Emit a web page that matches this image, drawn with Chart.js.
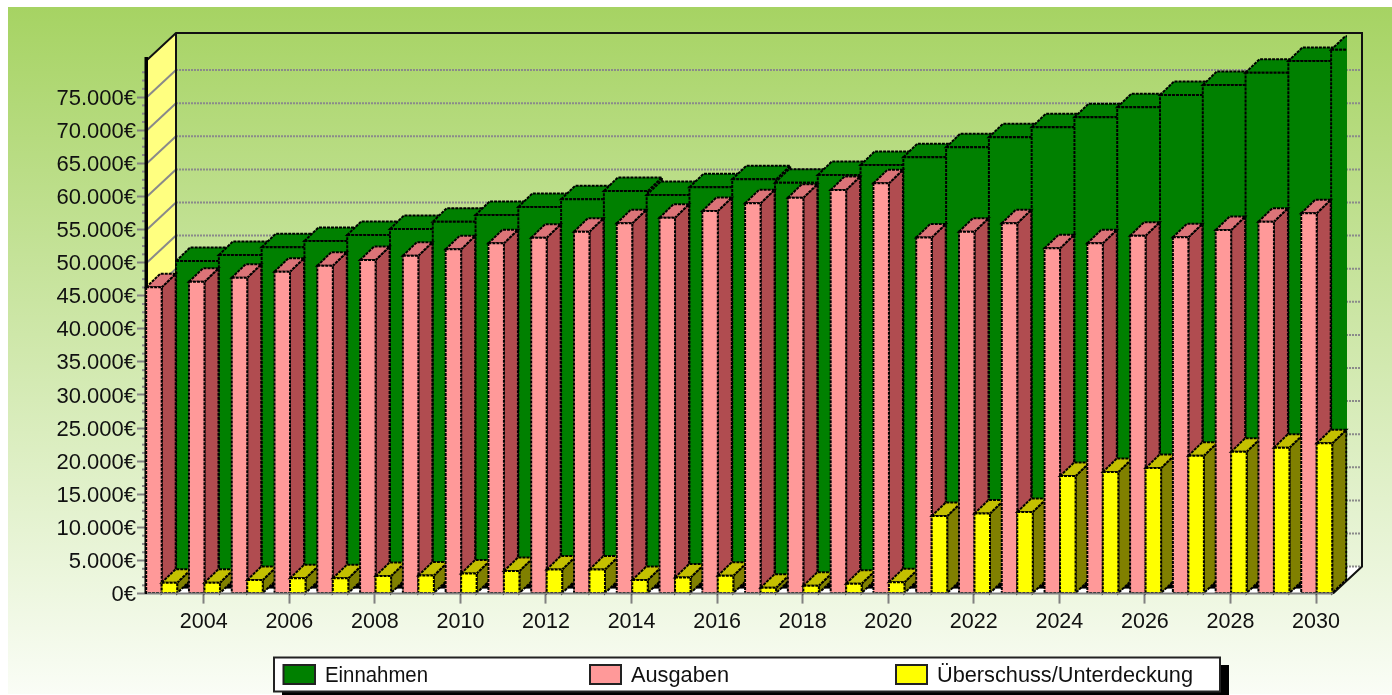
<!DOCTYPE html>
<html><head><meta charset="utf-8">
<script src="https://cdn.jsdelivr.net/npm/chart.js@4/dist/chart.umd.min.js"></script>
<style>html,body{margin:0;padding:0;background:#fff}canvas{display:block}</style>
</head><body><canvas id="c" width="1392" height="695"></canvas>
<script>
const years=[2003,2004,2005,2006,2007,2008,2009,2010,2011,2012,2013,2014,2015,2016,2017,2018,2019,2020,2021,2022,2023,2024,2025,2026,2027,2028,2029,2030];
const einnahmen=[48200,49110,50270,51220,52130,53040,54140,55150,56360,57520,58780,58170,59330,60540,60030,61190,62700,63880,65380,66890,68400,69910,71420,73280,74790,76650,78410,80100];
const ausgaben=[46270,47100,47720,48630,49530,50390,51040,52010,52920,53760,54670,55940,56780,57790,58960,59800,60970,61980,53790,54670,55940,52160,52920,54060,53820,54920,56180,57450];
const ueberschuss=[1650,1650,2050,2310,2310,2660,2730,3040,3410,3640,3640,2050,2430,2700,890,1190,1500,1710,11720,12100,12330,17760,18370,18970,20830,21430,22040,22700];
const seriesNames=['Einnahmen','Ausgaben','Überschuss/Unterdeckung'];
const evenYears=years.filter(y=>y%2===0);
const FONT='"Liberation Sans", Arial, sans-serif';
const BAR_DX=14,BAR_DY=13.5,WALL_DX=29,WALL_DY=27;
const faces=[
 {front:'#008000',top:'#008000',side:'#008000'},
 {front:'#FF9999',top:'#DC7478',side:'#B04C50'},
 {front:'#FFFF00',top:'#C4C000',side:'#808000'}];
const legendSlots=[{sw:[283.5,665,31.5,19],tx:325,w:103},{sw:[590,665,31,19],tx:631,w:98},{sw:[896,665,31,19],tx:937,w:256}];

function poly(ctx,pts,fill,stroke){
  ctx.beginPath();pts.forEach((p,i)=>i?ctx.lineTo(p[0],p[1]):ctx.moveTo(p[0],p[1]));ctx.closePath();
  if(fill){ctx.fillStyle=fill;ctx.fill();}
  if(stroke){ctx.stroke();}
}
function drawBar(ctx,el,f){
  const L=el.x-el.width/2,R=el.x+el.width/2,T=el.y,B=el.base;
  ctx.save();ctx.strokeStyle='#000';ctx.lineWidth=2;ctx.setLineDash([3,1]);
  poly(ctx,[[R,T],[R+BAR_DX,T-BAR_DY],[R+BAR_DX,B-BAR_DY],[R,B]],f.side,true);
  poly(ctx,[[L,T],[L+BAR_DX,T-BAR_DY],[R+BAR_DX,T-BAR_DY],[R,T]],f.top,true);
  el.draw(ctx);
  ctx.strokeRect(L,T,R-L,B-T);
  ctx.restore();
}
const scene={
  id:'scene',
  beforeDraw(chart){
    const c=chart.ctx,g=c.createLinearGradient(0,7,0,694);
    g.addColorStop(0,'#A6D363');g.addColorStop(1,'#FAFDF6');
    c.fillStyle=g;c.fillRect(8,7,1384,687);
  },
  beforeDatasetDraw(){return false;},
  beforeDatasetsDraw(chart){
    const c=chart.ctx,a=chart.chartArea,ys=chart.scales.y;
    const l=a.left,r=a.right,t=a.top,b=a.bottom;
    c.save();
    poly(c,[[l,t],[l+WALL_DX,t-WALL_DY],[l+WALL_DX,b-WALL_DY],[l,b]],'#FFFF80');
    poly(c,[[l,b],[l+WALL_DX,b-WALL_DY],[r+WALL_DX,b-WALL_DY],[r,b]],'#FFFFFF');
    c.fillStyle='#000';c.fillRect(l,b-BAR_DY,r-l,BAR_DY-5);
    c.strokeStyle='#8a8a8a';c.lineWidth=2;
    ys.ticks.forEach(k=>{
      const y=ys.getPixelForValue(k.value);
      if(k.value%5000===0&&k.value>0){
        c.setLineDash([]);c.beginPath();c.moveTo(l,y);c.lineTo(l+WALL_DX,y-WALL_DY);c.stroke();
        c.setLineDash([2,1]);c.beginPath();c.moveTo(l+WALL_DX,y-WALL_DY);c.lineTo(r+WALL_DX,y-WALL_DY);c.stroke();
      }else if(k.value%5000!==0){
        c.setLineDash([]);c.beginPath();c.moveTo(l-5,y);c.lineTo(l-1.5,y);c.stroke();
      }
    });
    c.setLineDash([2,1]);c.beginPath();c.moveTo(l+WALL_DX,b-WALL_DY);c.lineTo(r+WALL_DX,b-WALL_DY);c.stroke();
    c.setLineDash([]);
    c.strokeStyle='#111';c.lineWidth=2;
    c.beginPath();c.moveTo(l,t);c.lineTo(l+WALL_DX,t-WALL_DY);c.lineTo(r+WALL_DX,t-WALL_DY);c.lineTo(r+WALL_DX,b-WALL_DY);c.lineTo(r,b);c.stroke();
    c.beginPath();c.moveTo(l+WALL_DX,t-WALL_DY);c.lineTo(l+WALL_DX,b-WALL_DY);c.stroke();
    c.fillStyle='#000';c.fillRect(l-2.5,t-3,3.5,b-t+3);
    c.save();
    c.beginPath();c.rect(l+WALL_DX-1,0,r+BAR_DX-(l+WALL_DX)+1,b);c.clip();
    c.translate(BAR_DX,-BAR_DY);
    chart.getDatasetMeta(0).data.forEach(el=>drawBar(c,el,faces[0]));
    c.restore();
    c.save();c.translate(0.7,0);
    years.forEach((_,i)=>{
      drawBar(c,chart.getDatasetMeta(1).data[i],faces[1]);
      drawBar(c,chart.getDatasetMeta(2).data[i],faces[2]);
    });
    c.restore();
    c.strokeStyle='#808080';c.lineWidth=2;c.beginPath();c.moveTo(l,b);c.lineTo(r,b);c.stroke();
    c.restore();
  },
  afterDatasetsDraw(chart){
    const c=chart.ctx;c.save();
    c.fillStyle='#000';c.fillRect(282,665,947,30);
    c.fillStyle='#fff';c.strokeStyle='#222';c.lineWidth=2;
    c.fillRect(274,657.5,946,34);c.strokeRect(274,657.5,946,34);
    c.font='22px '+FONT;c.textBaseline='middle';c.textAlign='left';
    chart.data.datasets.forEach((d,i)=>{
      const s=legendSlots[i];
      c.fillStyle=faces[i].front;c.strokeStyle='#222';c.lineWidth=2;
      c.fillRect(...s.sw);c.strokeRect(...s.sw);
      c.fillStyle='#111';c.fillText(d.label,s.tx,676,s.w);
    });
    c.restore();
  }
};
const xMin=2002.673,xMax=2030.397,SHIFT=0.54;
const pts=v=>years.map((y,i)=>({x:y,y:v[i]}));
new Chart(document.getElementById('c'),{
  type:'bar',
  data:{datasets:[
    {label:seriesNames[0],data:pts(einnahmen),backgroundColor:faces[0].front,xAxisID:'x2',grouped:false,barThickness:44},
    {label:seriesNames[1],data:pts(ausgaben),backgroundColor:faces[1].front,xAxisID:'x',barThickness:15.5},
    {label:seriesNames[2],data:pts(ueberschuss),backgroundColor:faces[2].front,xAxisID:'x',barThickness:15.5}
  ]},
  options:{
    responsive:false,animation:false,events:[],
    layout:{padding:{left:0,right:59,top:60,bottom:61.4}},
    plugins:{legend:{display:false},tooltip:{enabled:false}},
    scales:{
      x:{type:'linear',offset:false,min:xMin,max:xMax,
        afterBuildTicks(s){s.ticks=evenYears.map(v=>({value:v}));},
        afterFit(s){s.height=40;},
        border:{display:false},
        grid:{offset:false,drawOnChartArea:false,drawTicks:true,tickLength:10,tickColor:'#808080',tickWidth:2},
        ticks:{autoSkip:false,maxRotation:0,padding:6,color:'#111',font:{family:FONT,size:21.5},callback:v=>String(v)}},
      x2:{type:'linear',axis:'x',display:false,offset:false,grid:{offset:false},min:xMin-SHIFT,max:xMax-SHIFT},
      y:{type:'linear',min:0,max:80604,
        beforeUpdate(s){
          if(!s._shifted){
            const orig=s._computeLabelItems;
            s._computeLabelItems=function(ca){const it=orig.call(this,ca);it.forEach(i=>{i.options.translation[1]+=1.5;});return it;};
            s._shifted=true;
          }
        },
        afterBuildTicks(s){const t=[];for(let v=0;v<=78750;v+=1250)t.push({value:v});s.ticks=t;},
        afterFit(s){s.width=147;},
        border:{display:false},
        grid:{drawOnChartArea:false,drawTicks:true,tickLength:10,tickWidth:2,
          tickColor:ctx=>ctx.tick&&ctx.tick.value%5000===0?'#808080':'rgba(0,0,0,0)'},
        ticks:{autoSkip:false,padding:1,color:'#111',font:{family:FONT,size:22},
          callback:v=>v%5000===0?v.toLocaleString('de-DE')+'€':''}}
    }
  },
  plugins:[scene]
});
</script></body></html>
